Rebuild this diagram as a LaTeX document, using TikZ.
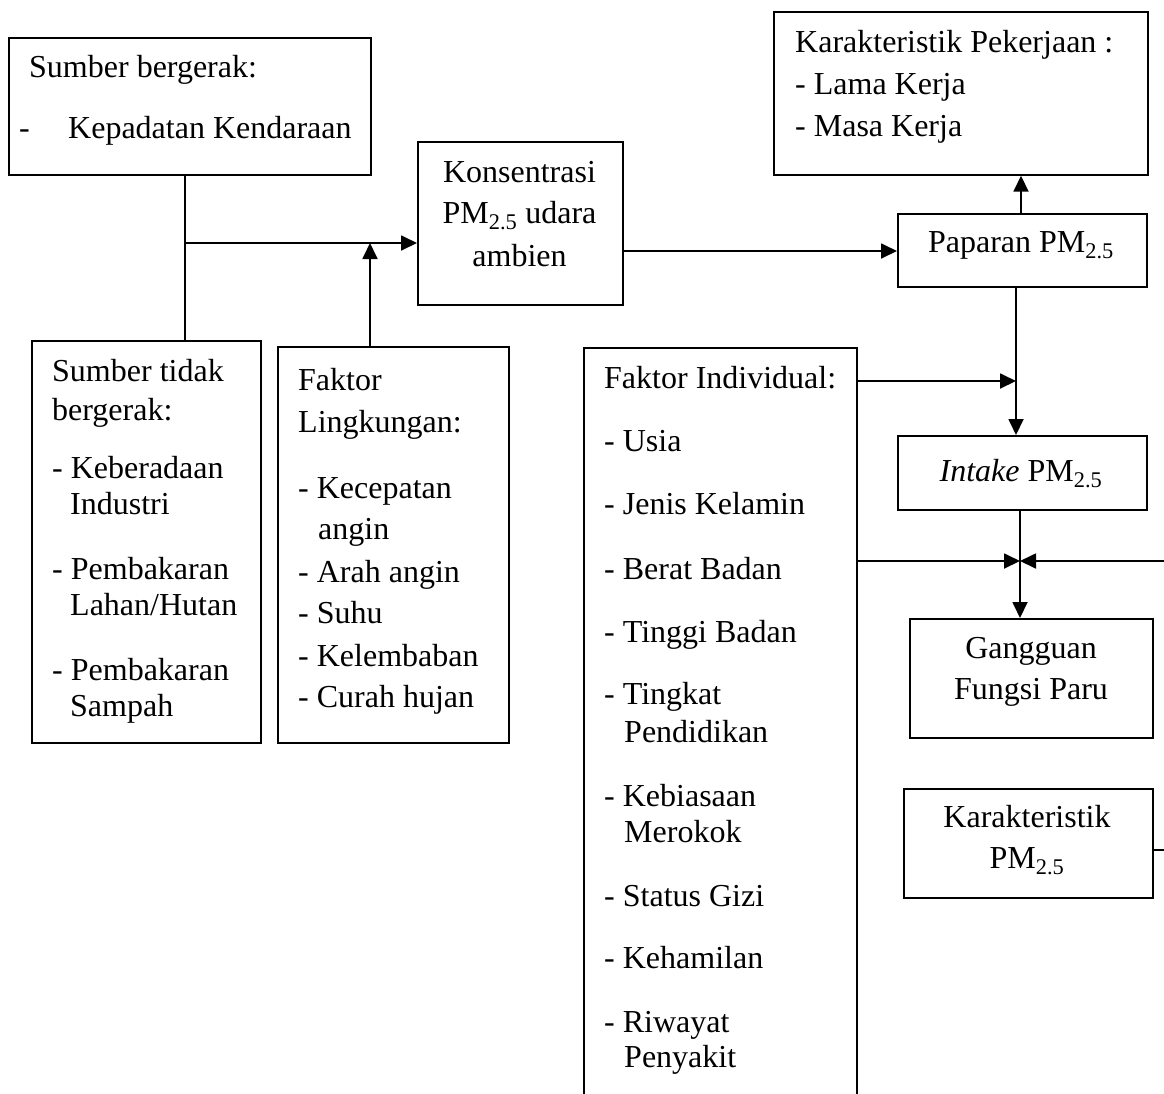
\documentclass[tikz,border=0pt]{standalone}
\usepackage{fontspec}
\setmainfont{Liberation Serif}
\usetikzlibrary{arrows.meta}
\begin{document}
\begin{tikzpicture}[x=1pt,y=-1pt,
  box/.style={draw, line width=1.7pt, rectangle, inner sep=0pt, anchor=north west},
  txt/.style={anchor=base west, inner sep=0pt, font=\fontsize{32}{42}\selectfont},
  ctxt/.style={anchor=base, inner sep=0pt, font=\fontsize{32}{42}\selectfont},
  conn/.style={line width=1.8pt},
  arr/.style={conn, -{Triangle[length=16pt,width=15pt]}}]
\useasboundingbox (0,0) rectangle (1164,1093);
\clip (0,0) rectangle (1164,1093);
\fill[white] (0,0) rectangle (1164,1093);

% boxes
\node[box, minimum width=362pt, minimum height=137pt] (sb) at (8,37) {};
\node[box, minimum width=205pt, minimum height=163pt] (kon) at (417,141) {};
\node[box, minimum width=374pt, minimum height=163pt] (kp) at (773,11) {};
\node[box, minimum width=249pt, minimum height=73pt] (pap) at (897,213) {};
\node[box, minimum width=249pt, minimum height=74pt] (intk) at (897,435) {};
\node[box, minimum width=243pt, minimum height=119pt] (gfp) at (909,618) {};
\node[box, minimum width=249pt, minimum height=109pt] (kpm) at (903,788) {};
\node[box, minimum width=229pt, minimum height=402pt] (stb) at (31,340) {};
\node[box, minimum width=231pt, minimum height=396pt] (fl) at (277,346) {};
\node[box, minimum width=273pt, minimum height=800pt] (fi) at (583,347) {};

% texts
\node[txt] (sb1) at (29,77) {Sumber bergerak:};
\node[txt] (sb2) at (19,138) {-};
\node[txt] (sb3) at (68,138) {Kepadatan Kendaraan};

\node[ctxt] (k1) at (519.5,182) {Konsentrasi};
\node[ctxt] (k2) at (519.5,223) {PM\textsubscript{2.5} udara};
\node[ctxt] (k3) at (519.5,266) {ambien};

\node[txt] (kp1) at (795,52) {Karakteristik Pekerjaan :};
\node[txt] (kp2) at (795,94) {- Lama Kerja};
\node[txt] (kp3) at (795,136) {- Masa Kerja};

\node[ctxt] (p1) at (1021,252) {Paparan PM\textsubscript{2.5}};
\node[ctxt] (i1) at (1021,481) {\textit{Intake} PM\textsubscript{2.5}};
\node[ctxt] (g1) at (1031,658) {Gangguan};
\node[ctxt] (g2) at (1031,699) {Fungsi Paru};
\node[ctxt] (c1) at (1027,827) {Karakteristik};
\node[ctxt] (c2) at (1027,868) {PM\textsubscript{2.5}};

\node[txt] (s1) at (52,381) {Sumber tidak};
\node[txt] (s2) at (52,420) {bergerak:};
\node[txt] (s3) at (52,478) {- Keberadaan};
\node[txt] (s4) at (70,514) {Industri};
\node[txt] (s5) at (52,579) {- Pembakaran};
\node[txt] (s6) at (70,615) {Lahan/Hutan};
\node[txt] (s7) at (52,680) {- Pembakaran};
\node[txt] (s8) at (70,716) {Sampah};

\node[txt] (l1) at (298,390) {Faktor};
\node[txt] (l2) at (298,432) {Lingkungan:};
\node[txt] (l3) at (298,498) {- Kecepatan};
\node[txt] (l4) at (318,539) {angin};
\node[txt] (l5) at (298,582) {- Arah angin};
\node[txt] (l6) at (298,623) {- Suhu};
\node[txt] (l7) at (298,666) {- Kelembaban};
\node[txt] (l8) at (298,707) {- Curah hujan};

\node[txt] (f1) at (604,388) {Faktor Individual:};
\node[txt] (f2) at (604,451) {- Usia};
\node[txt] (f3) at (604,514) {- Jenis Kelamin};
\node[txt] (f4) at (604,579) {- Berat Badan};
\node[txt] (f5) at (604,642) {- Tinggi Badan};
\node[txt] (f6) at (604,704) {- Tingkat};
\node[txt] (f7) at (624,742) {Pendidikan};
\node[txt] (f8) at (604,806) {- Kebiasaan};
\node[txt] (f9) at (624,842) {Merokok};
\node[txt] (f10) at (604,906) {- Status Gizi};
\node[txt] (f11) at (604,968) {- Kehamilan};
\node[txt] (f12) at (604,1032) {- Riwayat};
\node[txt] (f13) at (624,1067) {Penyakit};

% connectors
\coordinate (j1) at (185,243);
\coordinate (j2) at (370,243);
\coordinate (j3) at (700,251);
\coordinate (j4) at (1021,200);
\coordinate (j5) at (1016,381);
\coordinate (j6) at (1020,561);
\coordinate (redge) at (1164,561);
\coordinate (redge2) at (1164,850);

\draw[conn] (sb.south -| j1) -- (stb.north -| j1);
\draw[arr] (j1) -- (j1 -| kon.west);
\draw[arr] (fl.north -| j2) -- (j2);
\draw[arr] (kon.east |- j3) -- (pap.west |- j3);
\draw[arr] (pap.north -| j4) -- (kp.south -| j4);
\draw[arr] (pap.south -| j5) -- (intk.north -| j5);
\draw[arr] (fi.east |- j5) -- (j5);
\draw[arr] (intk.south -| j6) -- (gfp.north -| j6);
\draw[arr] (fi.east |- j6) -- (j6);
\draw[arr] (redge) -- (j6);
\draw[conn] (kpm.east |- redge2) -- (redge2);
\end{tikzpicture}
\end{document}
